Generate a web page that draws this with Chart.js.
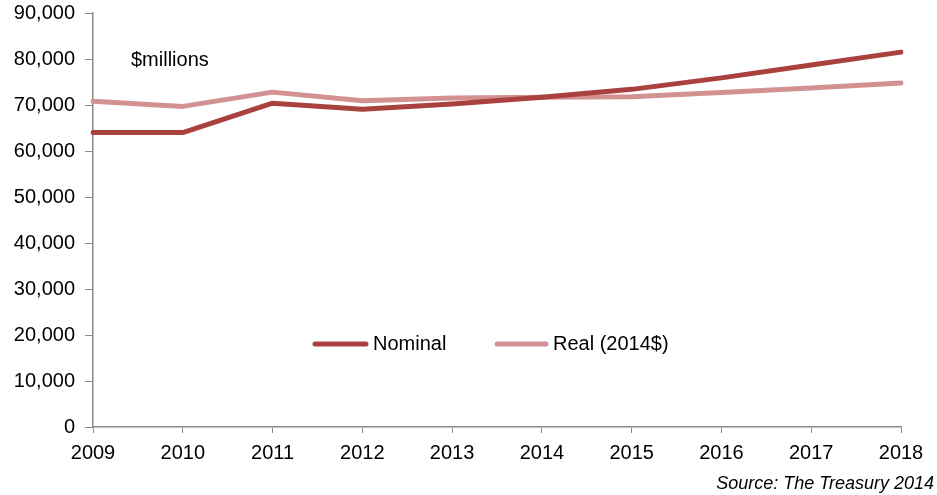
<!DOCTYPE html>
<html>
<head>
<meta charset="utf-8">
<script src="https://cdn.jsdelivr.net/npm/chart.js@4/dist/chart.umd.min.js"></script>
<style>
  html, body { margin: 0; padding: 0; background: #fff; }
  #wrap { width: 937px; height: 495px; position: relative; }
</style>
</head>
<body>
<div id="wrap"><canvas id="spendChart" width="937" height="495"></canvas></div>
<script>
// data ($ millions)
const years = ['2009', '2010', '2011', '2012', '2013', '2014', '2015', '2016', '2017', '2018'];
const nominal = [64000, 64000, 70400, 69100, 70200, 71700, 73400, 75900, 78700, 81500];
const real2014 = [70800, 69700, 72800, 70900, 71500, 71700, 71800, 72700, 73700, 74800];
const seriesNames = ['Nominal', 'Real (2014$)'];
const seriesColors = ['#A9413F', '#D39291'];

const font = "'Liberation Sans', Arial, sans-serif";
const axisGrey = '#8c8c8c';

// extra text + legend drawn inside the plot
const extras = {
  id: 'extras',
  afterDraw(chart) {
    const c = chart.ctx;
    c.save();
    c.fillStyle = '#000';
    c.textBaseline = 'middle';
    c.font = '20px ' + font;
    c.textAlign = 'left';
    c.fillText('$millions', 131, 60);

    // legend
    const items = [[313, 373], [495, 553]];
    chart.data.datasets.forEach((ds, i) => {
      c.strokeStyle = ds.borderColor;
      c.lineWidth = 5;
      c.lineCap = 'round';
      c.beginPath();
      c.moveTo(items[i][0] + 2, 344);
      c.lineTo(items[i][1] - 7, 344);
      c.stroke();
      c.fillText(ds.label, items[i][1], 344);
    });

    c.font = 'italic 18px ' + font;
    c.textAlign = 'right';
    c.fillText('Source: The Treasury 2014', 934, 484);
    c.restore();
  }
};

new Chart(document.getElementById('spendChart').getContext('2d'), {
  type: 'line',
  data: {
    labels: years,
    datasets: [{
      label: seriesNames[0],
      data: nominal,
      borderColor: seriesColors[0],
      backgroundColor: seriesColors[0],
      borderWidth: 5
    }, {
      label: seriesNames[1],
      data: real2014,
      borderColor: seriesColors[1],
      backgroundColor: seriesColors[1],
      borderWidth: 5,
      order: 1
    }]
  },
  options: {
    responsive: false,
    animation: false,
    layout: { padding: { left: 0, right: 36, top: 13, bottom: 0 } },
    elements: {
      point: { radius: 0 },
      line: { tension: 0, borderCapStyle: 'round', borderJoinStyle: 'round' }
    },
    plugins: {
      legend: { display: false },
      tooltip: { enabled: false }
    },
    scales: {
      x: {
        offset: false,
        grid: { display: true, drawOnChartArea: false, drawTicks: true, tickLength: 6, color: axisGrey },
        border: { display: true, color: axisGrey, width: 1.5 },
        ticks: { color: '#000', font: { family: font, size: 20 }, padding: 8, maxRotation: 0, autoSkip: false },
        afterFit(scale) { scale.height = 68; }
      },
      y: {
        min: 0,
        max: 90000,
        grid: { display: true, drawOnChartArea: false, drawTicks: true, tickLength: 8, color: axisGrey },
        border: { display: true, color: axisGrey, width: 1.5 },
        ticks: {
          stepSize: 10000,
          color: '#000',
          font: { family: font, size: 20 },
          padding: 10,
          callback: v => v.toLocaleString('en-US')
        },
        afterFit(scale) {
          scale.width = 93;
          scale.paddingTop = 0;
          scale.paddingBottom = 0;
        }
      }
    }
  },
  plugins: [extras]
});
</script>
</body>
</html>
